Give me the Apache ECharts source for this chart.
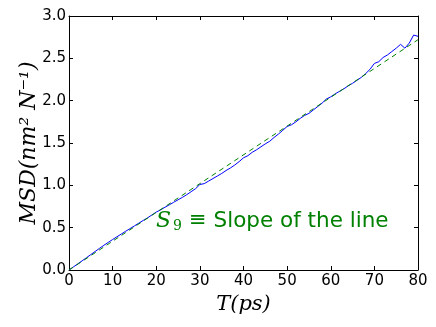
<!DOCTYPE html>
<html>
<head>
<meta charset="utf-8">
<script src="https://cdn.jsdelivr.net/npm/echarts@6/dist/echarts.min.js"></script>
<style>html,body{margin:0;padding:0;background:#fff}#c{width:436px;height:327px}</style>
</head>
<body>
<div id="c"></div>
<script>
// time (ps)
var timeValues = [0,1,2,3,4,5,6,7,8,9,10,11,12,13,14,15,16,17,18,19,20,21,22,23,24,25,26,27,28,29,30,31,32,33,34,35,36,37,38,39,40,41,42,43,44,45,46,47,48,49,50,51,52,53,54,55,56,57,58,59,60,61,62,63,64,65,66,67,68,69,70,71,72,73,74,75,76,77,78,79,80];
// MSD values (nm^2 N^-1)
var msdValues = [0,0.036,0.072,0.108,0.145,0.182,0.219,0.256,0.292,0.326,0.360,0.393,0.425,0.458,0.489,0.521,0.553,0.585,0.616,0.650,0.684,0.710,0.741,0.770,0.800,0.829,0.858,0.890,0.925,0.960,1.010,1.020,1.050,1.080,1.110,1.140,1.175,1.205,1.240,1.280,1.325,1.350,1.390,1.420,1.455,1.490,1.520,1.565,1.605,1.650,1.695,1.715,1.750,1.790,1.825,1.850,1.890,1.930,1.970,2.020,2.045,2.080,2.110,2.140,2.175,2.205,2.240,2.275,2.320,2.370,2.440,2.460,2.510,2.540,2.580,2.620,2.665,2.620,2.680,2.775,2.760];
// fitted line end points
var fitX = [0, 80];
var fitY = [0, 2.72];
var xTicks = [0,10,20,30,40,50,60,70,80];
var yTicks = ['0.0','0.5','1.0','1.5','2.0','2.5','3.0'];

var chart = echarts.init(document.getElementById('c'));
var axisLine = {show:true, onZero:false, lineStyle:{color:'#000', width:1}};
var tick = {show:true, inside:true, length:4, lineStyle:{color:'#000'}};
var lbl = {color:'#000', fontSize:15, fontFamily:'DejaVu Sans'};
chart.setOption({
  animation:false,
  backgroundColor:'#fff',
  grid:{left:69, right:18, top:16, bottom:57, containLabel:false},
  xAxis:[{
    type:'value', min:0, max:80, interval:10, position:'bottom',
    axisLine:axisLine, axisTick:tick, splitLine:{show:false},
    axisLabel:Object.assign({margin:4}, lbl),
    name:'T(ps)', nameLocation:'middle', nameGap:24, nameMoveOverlap:false,
    nameTextStyle:{fontFamily:'DejaVu Serif', fontStyle:'italic', fontSize:21, color:'#000', verticalAlign:'top'}
  },{
    type:'value', min:0, max:80, interval:10, position:'top',
    axisLine:axisLine, axisTick:tick, splitLine:{show:false}, axisLabel:{show:false}
  }],
  yAxis:[{
    type:'value', min:0, max:3, interval:0.5, position:'left',
    axisLine:axisLine, axisTick:tick, splitLine:{show:false},
    axisLabel:Object.assign({margin:3, formatter:function(v){return v.toFixed(1);}}, lbl),
    name:'MSD(nm² N⁻¹)', nameLocation:'middle', nameGap:29, nameRotate:90, nameMoveOverlap:false,
    nameTextStyle:{fontFamily:'DejaVu Serif', fontStyle:'italic', fontSize:22, color:'#000'}
  },{
    type:'value', min:0, max:3, interval:0.5, position:'right',
    axisLine:axisLine, axisTick:tick, splitLine:{show:false}, axisLabel:{show:false}
  }],
  series:[{
    type:'line', data:timeValues.map(function(t,i){return [t, msdValues[i]];}),
    showSymbol:false, symbol:'none', lineStyle:{color:'#0000ff', width:1}, z:2
  },{
    type:'line', data:fitX.map(function(t,i){return [t, fitY[i]];}),
    showSymbol:false, symbol:'none', lineStyle:{color:'#008000', width:1, type:[5,4]}, z:3
  }],
  graphic:[{
    type:'text', left:156, top:210,
    style:{
      rich:{
        s:{fontFamily:'DejaVu Serif', fontStyle:'italic', fontSize:22, fill:'#008000'},
        sub:{fontFamily:'DejaVu Serif', fontSize:14, fill:'#008000', verticalAlign:'bottom', padding:[10,0,0,2]},
        eq:{fontFamily:'DejaVu Sans', fontSize:21, fill:'#008000', padding:[0,7,0,7]},
        t:{fontFamily:'DejaVu Sans', fontSize:21.5, fill:'#008000'}
      },
      text:'{s|S}{sub|9}{eq|≡}{t|Slope of the line}'
    }
  }]
});
</script>
</body>
</html>
